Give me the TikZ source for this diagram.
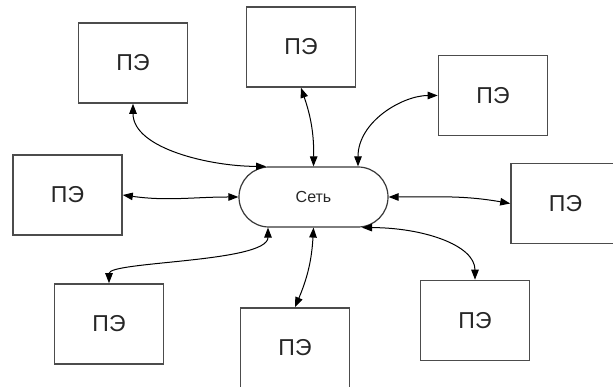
\documentclass[tikz,border=0pt]{standalone}
\usepackage{fontspec}
\setmainfont{Liberation Sans}
\usetikzlibrary{arrows.meta}
\tikzset{
  pebox/.style={draw=black!70, line width=1.6pt, fill=white, minimum width=109pt, minimum height=80pt, inner sep=0pt, text=black!85, font=\fontsize{23}{25}\selectfont},
  netbox/.style={draw=black!78, line width=1.2pt, rounded corners=30pt, minimum width=149pt, minimum height=60pt, inner sep=0pt, text=black!85, font=\fontsize{16}{18}\selectfont},
  biarrow/.style={line width=1pt, {Triangle[length=10pt,width=7.5pt]}-{Triangle[length=10pt,width=7.5pt]}}
}
\begin{document}
\begin{tikzpicture}[x=1pt,y=1pt]
\useasboundingbox (0,0) rectangle (613,387);
\fill[white] (0,0) rectangle (613,387);
\node[netbox] (net) at (313.5,190) {Сеть};
\node[pebox] (tl) at (133,324) {ПЭ};
\node[pebox] (tm) at (301,340) {ПЭ};
\node[pebox] (tr) at (493,291.5) {ПЭ};
\node[pebox] (l) at (67.5,192) {ПЭ};
\node[pebox] (r) at (565.5,183.5) {ПЭ};
\node[pebox] (bl) at (109,63) {ПЭ};
\node[pebox] (bm) at (295,39) {ПЭ};
\node[pebox] (br) at (475,66.5) {ПЭ};
\draw[biarrow] (tl.south) .. controls +(0,-45) and +(-55,0) .. ([xshift=-47.5pt]net.north);
\draw[biarrow] (tm.south) to[bend left=10] (net.north);
\draw[biarrow] ([xshift=44.5pt]net.north) .. controls +(0,45) and +(-35,0) .. (tr.west);
\draw[biarrow] (l.east) to[out=-8,in=180] (net.west);
\draw[biarrow] (net.east) to[out=0,in=170] (r.west);
\draw[biarrow] ([xshift=-45.5pt]net.south) .. controls +(0,-35) and +(0,22) .. (bl.north);
\draw[biarrow] (net.south) to[bend left=10] (bm.north);
\draw[biarrow] ([xshift=48.5pt]net.south) .. controls +(60,0) and +(0,35) .. (br.north);
\end{tikzpicture}
\end{document}
